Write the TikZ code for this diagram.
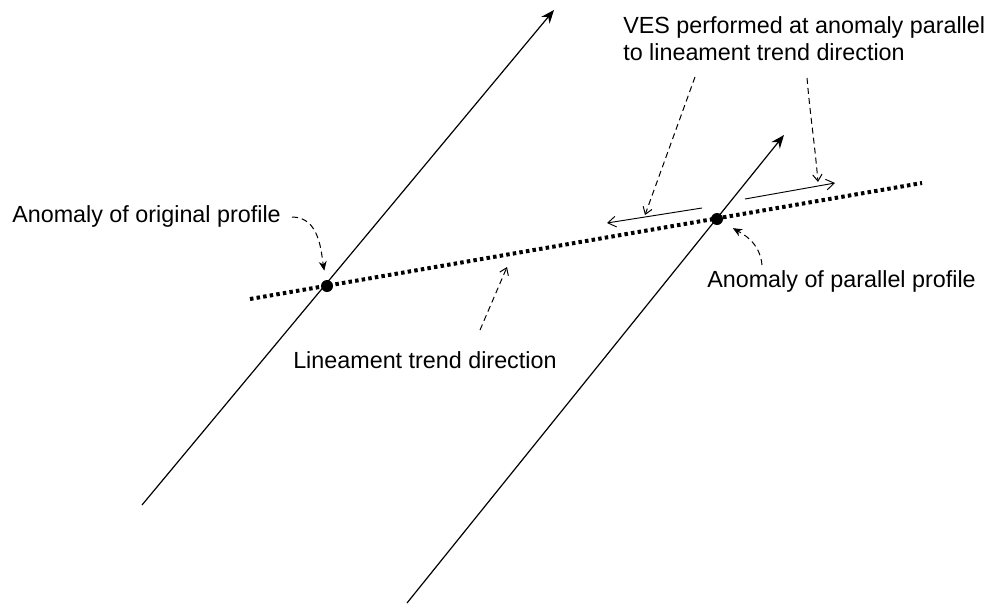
\documentclass[tikz,border=0pt]{standalone}
\usepackage{fontspec}
\setmainfont{Liberation Sans}
\usetikzlibrary{arrows.meta}
\usetikzlibrary{positioning}

\begin{document}
\begin{tikzpicture}[x=0.75pt, y=-0.75pt, >=Stealth, font=\fontsize{17.5}{20.3}\selectfont]
    \tikzstyle{profile}=[-{Stealth[length=10pt,width=8pt]}, line width=0.9pt]
    \tikzstyle{trend}=[line width=3pt, dash pattern=on 2.6pt off 2.4pt]
    \tikzstyle{anom}=[circle, fill=black, minimum size=9pt, inner sep=0pt]
    \tikzstyle{ves}=[-{Straight Barb[length=6pt,width=8pt]}, line width=0.7pt]
    \tikzstyle{callout}=[line width=0.75pt, dash pattern=on 4.5pt off 3pt]
    \tikzstyle{filltip}=[-{Stealth[length=7pt,width=6pt]}]
    \tikzstyle{opentip}=[-{Straight Barb[length=5pt,width=7pt]}]
    \tikzstyle{lbl}=[inner sep=0pt, anchor=base west]

    \useasboundingbox (0,0) rectangle (991,603);

    % profile lines
    \coordinate (p1s) at (142,505);
    \coordinate (p1e) at (554,10);
    \coordinate (p2s) at (407,603);
    \coordinate (p2e) at (784,135);
    \draw[profile] (p1s) -- (p1e);
    \draw[profile] (p2s) -- (p2e);

    % lineament trend
    \coordinate (ts) at (250,299);
    \coordinate (te) at (922,183);
    \draw[trend] (ts) -- (te);

    \node[anom] (orig) at (327,286) {};
    \node[anom] (par) at (717,219) {};

    % VES directions
    \coordinate (vl1) at (702,208);
    \coordinate (vl2) at (607,223);
    \coordinate (vr1) at (745,199);
    \coordinate (vr2) at (835,183);
    \draw[ves] (vl1) -- (vl2);
    \draw[ves] (vr1) -- (vr2);

    % labels
    \node[lbl] (origlbl) at (12,222) {Anomaly of original profile};
    \node[lbl] (parlbl) at (707,287) {Anomaly of parallel profile};
    \node[lbl] (trendlbl) at (293,368) {Lineament trend direction};
    \node[inner sep=0pt, anchor=north west, align=left] (veslbl) at (623,16)
        {VES performed at anomaly parallel\\to lineament trend direction};

    % callouts
    \coordinate (c1) at (292,217);
    \coordinate (c2) at (762,265);
    \coordinate (c3) at (480,330);
    \coordinate (c4) at (507,267);
    \coordinate (c5) at (695,77);
    \coordinate (c6) at (645,215);
    \coordinate (c7) at (807,78);
    \coordinate (c8) at (818,182);
    \draw[callout, filltip, shorten >=7pt] (c1) to[out=0, in=100] (orig);
    \draw[callout, filltip, shorten >=9pt] (c2) to[out=95, in=-30] (par);
    \draw[callout, opentip] (c3) -- (c4);
    \draw[callout, opentip] (c5) -- (c6);
    \draw[callout, opentip] (c7) to[out=-85, in=95] (c8);
\end{tikzpicture}
\end{document}
